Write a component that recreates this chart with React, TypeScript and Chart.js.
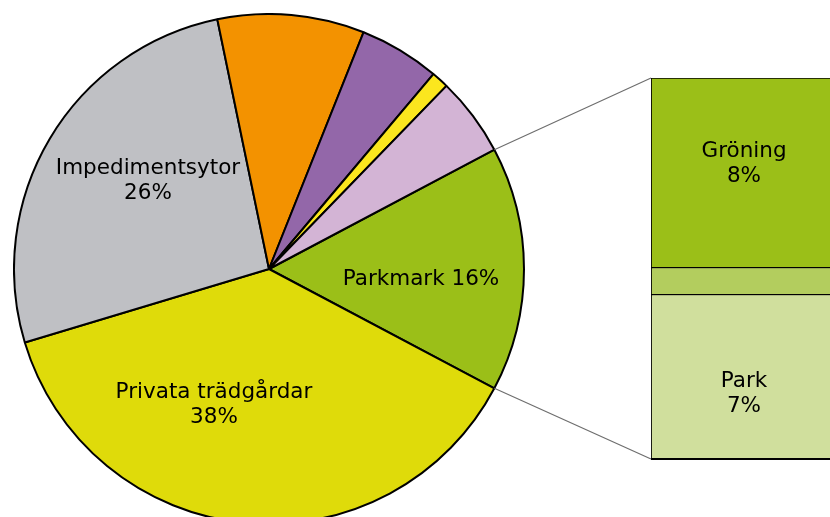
import React, { useEffect, useRef } from "react";
import { Chart, registerables } from "chart.js";
Chart.register(...registerables);

// Pie (first slice = Parkmark, drawn clockwise from its start)
const pieLabels = ["Parkmark", "Privata trädgårdar", "Impedimentsytor", "Övrigt A", "Övrigt B", "Övrigt C", "Övrigt D"];
const pieValues = [15.5, 37.6, 26.4, 9.3, 5.1, 1.1, 5.0];
const pieColors = ["#9BBF18", "#DFDB0A", "#BFC0C4", "#F39200", "#9367A9", "#FBE61E", "#D3B4D5"];
const pieShowLabel = [true, true, true, false, false, false, false];
const pieTwoLine = [false, true, true, false, false, false, false];

// Breakdown bar of Parkmark (bottom to top)
const barLabels = ["Park", "Övrigt", "Gröning"];
const barValues = [6.7, 1.1, 7.7];
const barColors = ["#D0DF9D", "#B3CD5E", "#9BBF18"];
const barShowLabel = [true, false, true];

const FONT = '21.5px "DejaVu Sans", Verdana, sans-serif';
const PIE_LEFT = 13;
const PIE_TOP = 13;
const PIE_SIZE = 512;
const BAR_LEFT = 480;
const BAR_W = 400;
const H = 517;

// label offsets relative to pie centre (layout only)
const pieLabelOffsets: [number, number][] = [
  [152, 10],
  [-55, 136],
  [-121, -88],
  [0, 0],
  [0, 0],
  [0, 0],
  [0, 0],
];
const barLabelShift = [17, 0, -9];

const pct = (v: number) => Math.round(v) + "%";

function drawLines(ctx: CanvasRenderingContext2D, lines: string[], x: number, cy: number) {
  const lh = 25;
  const start = cy - ((lines.length - 1) * lh) / 2;
  lines.forEach((t, i) => ctx.fillText(t, x, start + i * lh));
}

export default function App() {
  const pieRef = useRef<HTMLCanvasElement>(null);
  const barRef = useRef<HTMLCanvasElement>(null);

  useEffect(() => {
    const pieLabelPlugin = {
      id: "pieLabels",
      afterDatasetsDraw(chart: any) {
        const ctx = chart.ctx;
        const meta = chart.getDatasetMeta(0);
        ctx.save();
        ctx.font = FONT;
        ctx.fillStyle = "#000";
        ctx.textAlign = "center";
        ctx.textBaseline = "middle";
        meta.data.forEach((arc: any, i: number) => {
          if (!pieShowLabel[i]) return;
          const [dx, dy] = pieLabelOffsets[i];
          const txt = pct(pieValues[i]);
          const lines = pieTwoLine[i] ? [pieLabels[i], txt] : [pieLabels[i] + " " + txt];
          drawLines(ctx, lines, arc.x + dx, arc.y + dy);
        });
        ctx.restore();
      },
    };

    const pie = new Chart(pieRef.current!, {
      type: "pie",
      data: {
        labels: pieLabels,
        datasets: [
          {
            data: pieValues,
            backgroundColor: pieColors,
            borderColor: "#000",
            borderWidth: 2,
          },
        ],
      },
      options: {
        responsive: false,
        animation: false,
        devicePixelRatio: 1,
        rotation: (pieValues[0] / 100) * -180 + 90,
        layout: { padding: 0 },
        plugins: { legend: { display: false }, tooltip: { enabled: false } },
      },
      plugins: [pieLabelPlugin],
    });

    const barPlugin = {
      id: "barExtras",
      afterDraw(chart: any) {
        const ctx = chart.ctx;
        const y = chart.scales.y;
        const area = chart.chartArea;
        const total = barValues.reduce((a, b) => a + b, 0);
        const top = y.getPixelForValue(total);
        const bottom = y.getPixelForValue(0);
        const left = area.left;

        // connector lines from Parkmark slice edges
        const arc: any = pie.getDatasetMeta(0).data[0];
        const r = arc.outerRadius;
        const cx = arc.x + PIE_LEFT - BAR_LEFT;
        const cy = arc.y + PIE_TOP;
        const p1 = [cx + r * Math.cos(arc.startAngle), cy + r * Math.sin(arc.startAngle)];
        const p2 = [cx + r * Math.cos(arc.endAngle), cy + r * Math.sin(arc.endAngle)];
        ctx.save();
        ctx.strokeStyle = "#6E6E6E";
        ctx.lineWidth = 1.2;
        ctx.beginPath();
        ctx.moveTo(p1[0], p1[1]);
        ctx.lineTo(left, top);
        ctx.moveTo(p2[0], p2[1]);
        ctx.lineTo(left, bottom);
        ctx.stroke();

        // bottom axis line
        ctx.strokeStyle = "#000";
        ctx.lineWidth = 2;
        ctx.beginPath();
        ctx.moveTo(left, bottom);
        ctx.lineTo(area.right, bottom);
        ctx.stroke();

        // labels
        ctx.font = FONT;
        ctx.fillStyle = "#000";
        ctx.textAlign = "center";
        ctx.textBaseline = "middle";
        chart.data.datasets.forEach((ds: any, i: number) => {
          if (!barShowLabel[i]) return;
          const el: any = chart.getDatasetMeta(i).data[0];
          const mid = (el.y + el.base) / 2 + barLabelShift[i];
          drawLines(ctx, [barLabels[i], pct(barValues[i])], el.x, mid);
        });
        ctx.restore();
      },
    };

    const bar = new Chart(barRef.current!, {
      type: "bar",
      data: {
        labels: ["Parkmark"],
        datasets: barLabels.map((l, i) => ({
          label: l,
          data: [barValues[i]],
          backgroundColor: barColors[i],
          borderColor: "#000",
          borderWidth: 1.2,
          barPercentage: 1,
          categoryPercentage: 1,
        })),
      },
      options: {
        responsive: false,
        animation: false,
        devicePixelRatio: 1,
        layout: { padding: { top: 78, bottom: H - 459, left: 651 - BAR_LEFT, right: BAR_W - (651 - BAR_LEFT) - 186 } },
        scales: {
          x: { stacked: true, display: false },
          y: { stacked: true, display: false, min: 0, max: barValues.reduce((a, b) => a + b, 0) },
        },
        plugins: { legend: { display: false }, tooltip: { enabled: false } },
      },
      plugins: [barPlugin],
    });

    return () => {
      bar.destroy();
      pie.destroy();
    };
  }, []);

  return (
    <div style={{ position: "absolute", left: 0, top: 0, width: 830, height: H, overflow: "hidden", background: "#fff" }}>
      <canvas
        ref={pieRef}
        width={PIE_SIZE}
        height={PIE_SIZE}
        style={{ position: "absolute", left: PIE_LEFT, top: PIE_TOP, width: PIE_SIZE, height: PIE_SIZE }}
      />
      <canvas
        ref={barRef}
        width={BAR_W}
        height={H}
        style={{ position: "absolute", left: BAR_LEFT, top: 0, width: BAR_W, height: H }}
      />
    </div>
  );
}
